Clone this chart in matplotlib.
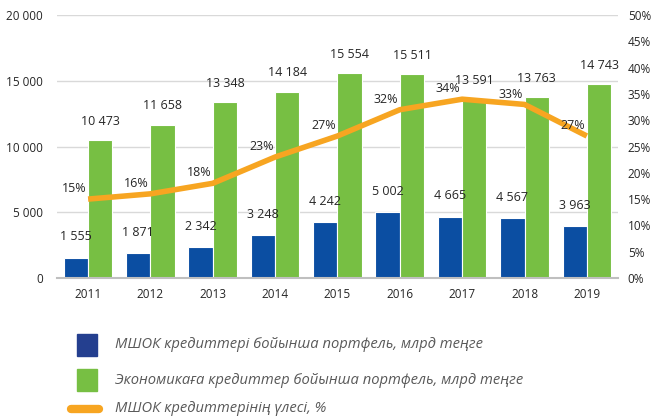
import numpy as np
import matplotlib.pyplot as plt
from matplotlib.patches import Rectangle
from matplotlib.lines import Line2D

years = ['2011', '2012', '2013', '2014', '2015', '2016', '2017', '2018', '2019']
msme = [1555, 1871, 2342, 3248, 4242, 5002, 4665, 4567, 3963]
economy = [10473, 11658, 13348, 14184, 15554, 15511, 13591, 13763, 14743]
share = [15, 16, 18, 23, 27, 32, 34, 33, 27]

labels = ['МШОК кредиттері бойынша портфель, млрд теңге',
          'Экономикаға кредиттер бойынша портфель, млрд теңге',
          'МШОК кредиттерінің үлесі, %']

blue = '#0B4EA2'
green = '#77BF43'
orange = '#F7A521'
txt = '#262626'

plt.rcParams['font.family'] = ['Open Sans', 'DejaVu Sans']

fig = plt.figure(figsize=(6.54, 4.18), dpi=100)
ax = fig.add_axes([0.087, 0.335, 0.858, 0.629])

x = np.arange(len(years))
w = 0.39
ax.bar(x - w / 2, msme, w, color=blue, edgecolor='white', linewidth=0.8, zorder=2)
ax.bar(x + w / 2, economy, w, color=green, edgecolor='white', linewidth=0.8, zorder=2)

def fmt(v):
    return f'{v:,}'.replace(',', ' ')

for i in range(len(years)):
    ax.annotate(fmt(msme[i]), (x[i] - w / 2, msme[i]), xytext=(0, 15),
                textcoords='offset points', ha='center', va='center',
                fontsize=9, color=txt)
    ax.annotate(fmt(economy[i]), (x[i] + w / 2, economy[i]), xytext=(0, 13.5),
                textcoords='offset points', ha='center', va='center',
                fontsize=9, color=txt)

ax.set_ylim(0, 20000)
ax.set_xlim(-0.5, len(years) - 0.5)
ax.set_yticks(range(0, 20001, 5000))
ax.set_yticklabels([fmt(v) for v in range(0, 20001, 5000)])
ax.set_xticks(x)
ax.set_xticklabels(years)
ax.grid(axis='y', color='#D9D9D9', linewidth=1, zorder=0)
ax.set_axisbelow(True)
for s in ['top', 'right', 'left']:
    ax.spines[s].set_visible(False)
ax.spines['bottom'].set_color('#BFBFBF')
ax.spines['bottom'].set_linewidth(1.5)
ax.tick_params(axis='both', length=0, labelsize=8.5, colors=txt)
ax.tick_params(axis='x', pad=7)
ax.tick_params(axis='y', pad=10)

ax2 = ax.twinx()
ax2.plot(x, share, color=orange, linewidth=4, solid_capstyle='butt', zorder=3)
ax2.set_ylim(0, 50)
ax2.set_yticks(range(0, 51, 5))
ax2.set_yticklabels([f'{v}%' for v in range(0, 51, 5)])
ax2.tick_params(axis='y', length=0, labelsize=8.5, colors=txt, pad=7)
for s in ax2.spines.values():
    s.set_visible(False)
for i in range(len(years)):
    ax2.annotate(f'{share[i]}%', (x[i], share[i]), xytext=(-10, 7.5),
                 textcoords='offset points', ha='center', va='center',
                 fontsize=9, color=txt)

# legend drawn by hand
H = 418
W = 654
fig.add_artist(Rectangle((77 / W, 1 - 356 / H), 20 / W, 22 / H,
                         color='#243F8F', transform=fig.transFigure))
fig.add_artist(Rectangle((77 / W, 1 - 391 / H), 20 / W, 22 / H,
                         color=green, transform=fig.transFigure))
fig.add_artist(Line2D([71 / W, 99 / W], [1 - 409 / H, 1 - 409 / H],
                      color=orange, linewidth=6, solid_capstyle='round',
                      transform=fig.transFigure))
for j, yy in enumerate([345, 380, 408]):
    fig.text(115 / W, 1 - yy / H, labels[j], fontsize=10.6, style='italic',
             color='#595959', va='center', ha='left')

fig.savefig('out.png', dpi=100)
